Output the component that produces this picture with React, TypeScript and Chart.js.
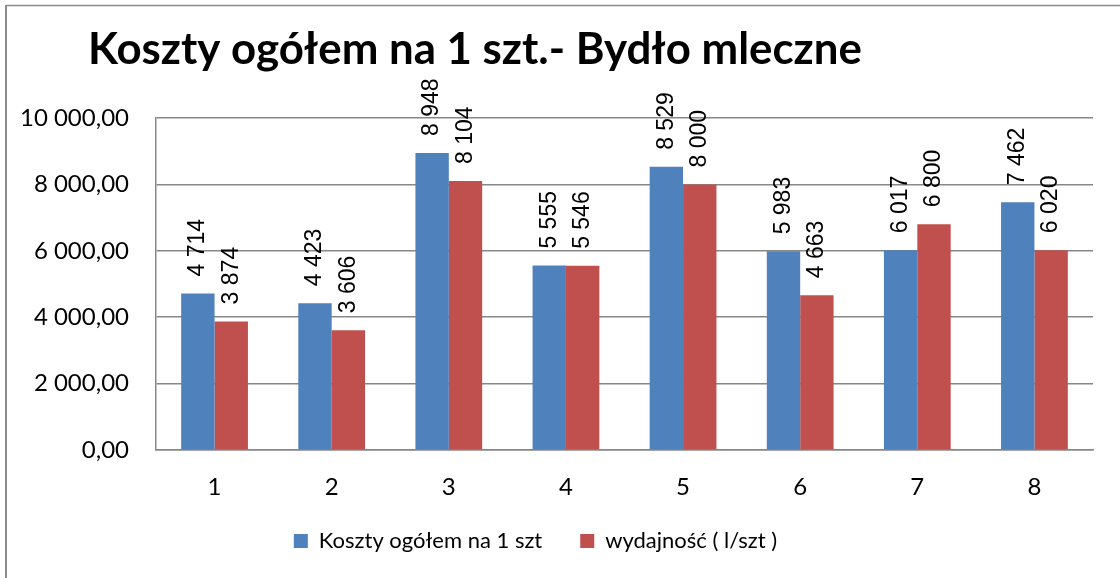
import React, { useEffect, useRef } from "react";
import { Chart, registerables } from "chart.js";

Chart.register(...registerables);

const TITLE = "Koszty ogółem na 1 szt.- Bydło mleczne";
const CATEGORIES = ["1", "2", "3", "4", "5", "6", "7", "8"];
const SERIES_A_LABEL = "Koszty ogółem na 1 szt";
const SERIES_A = [4714, 4423, 8948, 5555, 8529, 5983, 6017, 7462];
const SERIES_B_LABEL = "wydajność ( l/szt )";
const SERIES_B = [3874, 3606, 8104, 5546, 8000, 4663, 6800, 6020];
const Y_MIN = 0;
const Y_MAX = 10000;
const Y_STEP = 2000;

const COLOR_A = "#4F81BD";
const COLOR_B = "#C0504D";
const AXIS_COLOR = "#878787";
const FONT = "Lato, 'Open Sans', sans-serif";
const LABEL_FONT = "'Liberation Sans', Arial, sans-serif";

function groupThousands(n: number): string {
  const s = Math.round(Math.abs(n)).toString();
  return (n < 0 ? "-" : "") + s.replace(/\B(?=(\d{3})+(?!\d))/g, " ");
}

function formatTick(v: number): string {
  return groupThousands(v) + ",00";
}

const frameAndLabelsPlugin = {
  id: "frameAndLabels",
  afterLayout(chart: any) {
    if (chart.titleBlock) {
      chart.titleBlock.left = 88;
    }
    if (chart.legend) {
      chart.legend.right = chart.legend.right - 22;
      chart.legend.top = chart.legend.top - 16;
      chart.legend.bottom = chart.legend.bottom - 16;
    }
  },
  beforeDraw(chart: any) {
    const ctx = chart.ctx;
    ctx.save();
    ctx.strokeStyle = "#8a8a8a";
    ctx.lineWidth = 2;
    ctx.beginPath();
    ctx.moveTo(6, 578);
    ctx.lineTo(6, 5);
    ctx.stroke();
    ctx.lineWidth = 1.5;
    ctx.beginPath();
    ctx.moveTo(6, 5.5);
    ctx.lineTo(1120, 5.5);
    ctx.stroke();
    ctx.restore();
  },
  afterDatasetsDraw(chart: any) {
    const ctx = chart.ctx;
    ctx.save();
    ctx.fillStyle = "#000";
    ctx.font = `23px ${LABEL_FONT}`;
    ctx.textAlign = "left";
    ctx.textBaseline = "middle";
    chart.data.datasets.forEach((ds: any, di: number) => {
      const meta = chart.getDatasetMeta(di);
      meta.data.forEach((el: any, i: number) => {
        const v = ds.data[i] as number;
        ctx.save();
        ctx.translate(el.x, el.y - 17);
        ctx.rotate(-Math.PI / 2);
        ctx.fillText(groupThousands(v), 0, 0);
        ctx.restore();
      });
    });
    ctx.restore();
  },
};

export default function App() {
  const canvasRef = useRef<HTMLCanvasElement | null>(null);

  useEffect(() => {
    const canvas = canvasRef.current;
    if (!canvas) return;

    const mctx = document.createElement("canvas").getContext("2d")!;
    mctx.font = `bold 100px ${FONT}`;
    const w = mctx.measureText(TITLE).width;
    const titleSize = Math.round(((100 * 774) / w) * 10) / 10;
    const padTop = 50 - 0.6 * titleSize;
    const titleBottomPad = 118 - padTop - 1.2 * titleSize;

    const chart = new Chart(canvas, {
      type: "bar",
      data: {
        labels: CATEGORIES,
        datasets: [
          {
            label: SERIES_A_LABEL,
            data: SERIES_A,
            backgroundColor: COLOR_A,
            borderWidth: 0,
            categoryPercentage: 0.57,
            barPercentage: 1.0,
          },
          {
            label: SERIES_B_LABEL,
            data: SERIES_B,
            backgroundColor: COLOR_B,
            borderWidth: 0,
            categoryPercentage: 0.57,
            barPercentage: 1.0,
          },
        ],
      },
      options: {
        responsive: false,
        animation: false,
        maintainAspectRatio: false,
        layout: {
          padding: { top: padTop, left: 0, right: 27, bottom: 0 },
        },
        plugins: {
          title: {
            display: true,
            text: TITLE,
            align: "start",
            color: "#000",
            font: { family: FONT, weight: "bold", size: titleSize, lineHeight: 1.2 },
            padding: { top: 0, bottom: titleBottomPad },
          },
          legend: {
            display: true,
            position: "bottom",
            labels: {
              color: "#000",
              font: { family: FONT, size: 22 },
              boxWidth: 14,
              boxHeight: 14,
              padding: 38,
            },
          },
          tooltip: { enabled: false },
        },
        scales: {
          x: {
            grid: { display: false },
            border: { display: true, color: AXIS_COLOR, width: 1.5 },
            ticks: { color: "#000", font: { family: FONT, size: 24 }, padding: 15 },
            afterFit: (s: any) => {
              s.height = 58;
            },
          },
          y: {
            min: Y_MIN,
            max: Y_MAX,
            grid: { color: AXIS_COLOR, lineWidth: 1.5, drawTicks: false },
            border: { display: true, color: AXIS_COLOR, width: 1.5 },
            ticks: {
              stepSize: Y_STEP,
              color: "#000",
              font: { family: FONT, size: 24 },
              padding: 27,
              callback: (v: any) => formatTick(Number(v)),
            },
            afterFit: (s: any) => {
              s.width = 156;
            },
          },
        },
      },
      plugins: [frameAndLabelsPlugin],
    });

    return () => {
      chart.destroy();
    };
  }, []);

  return (
    <div style={{ position: "absolute", left: 0, top: 0, width: 1120, height: 578, background: "#fff" }}>
      <canvas ref={canvasRef} width={1120} height={578} style={{ display: "block" }} />
    </div>
  );
}
